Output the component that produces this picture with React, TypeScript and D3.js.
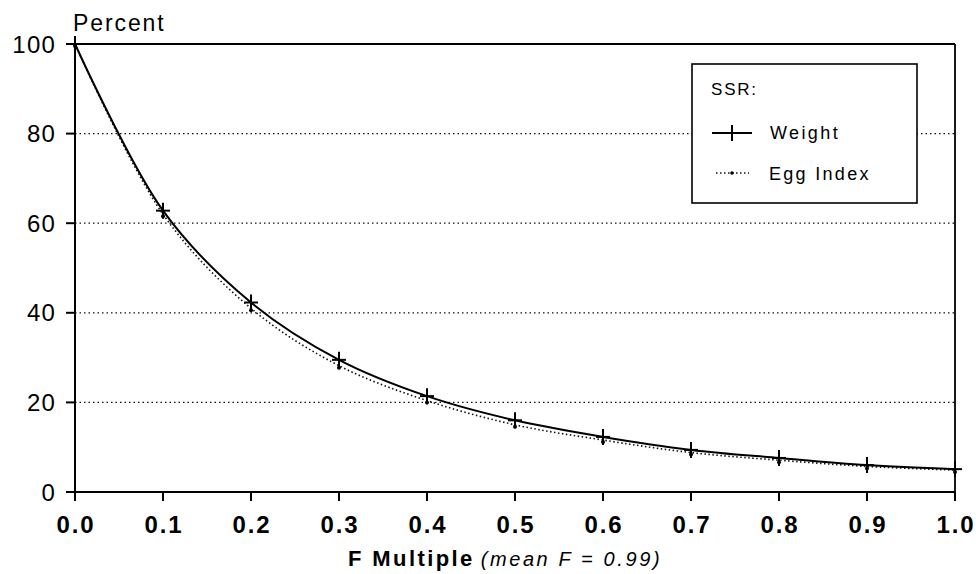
import React from "react";
import * as d3 from "d3";

const fMultiple = [0.0, 0.1, 0.2, 0.3, 0.4, 0.5, 0.6, 0.7, 0.8, 0.9, 1.0];
const weightSSR = [100, 62.8, 42.3, 29.5, 21.4, 16.0, 12.3, 9.4, 7.6, 6.0, 5.1];
const eggIndexSSR = [100, 62.0, 41.0, 28.2, 20.4, 15.0, 11.6, 8.8, 7.1, 5.7, 4.9];
const yTicks = [0, 20, 40, 60, 80, 100];
const xTicks = [0, 0.1, 0.2, 0.3, 0.4, 0.5, 0.6, 0.7, 0.8, 0.9, 1.0];
const gridLevels = [20, 40, 60, 80];

const W = 976;
const H = 574;
const FONT = "'Liberation Sans', Arial, sans-serif";

export default function App() {
  const x = d3.scaleLinear().domain([0, 1]).range([75, 955]);
  const y = d3.scaleLinear().domain([0, 100]).range([492, 44]);

  const weightPts = fMultiple.map((f, i) => [f, weightSSR[i]] as [number, number]);
  const eggPts = fMultiple.map((f, i) => [f, eggIndexSSR[i]] as [number, number]);

  const line = d3
    .line<[number, number]>()
    .x((d) => x(d[0]))
    .y((d) => y(d[1]))
    .curve(d3.curveCatmullRom.alpha(0.5));

  return (
    <svg
      width={W}
      height={H}
      style={{ position: "absolute", left: 0, top: 0, background: "#fff" }}
      fontFamily={FONT}
    >
      <rect x={0} y={0} width={W} height={H} fill="#fff" />
      {gridLevels.map((g) => (
        <line
          key={g}
          x1={x(0)}
          x2={x(1)}
          y1={y(g)}
          y2={y(g)}
          stroke="#111"
          strokeWidth={1.3}
          strokeDasharray="1.5,3"
        />
      ))}
      <line x1={x(0)} x2={x(1)} y1={y(100)} y2={y(100)} stroke="#000" strokeWidth={1.8} />
      <line x1={x(1)} x2={x(1)} y1={y(100)} y2={y(0)} stroke="#000" strokeWidth={1.8} />
      <line x1={x(0)} x2={x(0)} y1={y(100)} y2={y(0) + 9} stroke="#000" strokeWidth={2} />
      <line x1={x(0) - 9} x2={x(1)} y1={y(0)} y2={y(0)} stroke="#000" strokeWidth={2} />
      {yTicks.map((t) => (
        <g key={t}>
          <line x1={x(0) - 9} x2={x(0)} y1={y(t)} y2={y(t)} stroke="#000" strokeWidth={2} />
          <text
            x={56}
            y={y(t)}
            dy="0.36em"
            textAnchor="end"
            fontSize={24}
            letterSpacing={1.2}
            fill="#000"
          >
            {t}
          </text>
        </g>
      ))}
      {xTicks.map((t) => (
        <g key={t}>
          <line x1={x(t)} x2={x(t)} y1={y(0)} y2={y(0) + 9} stroke="#000" strokeWidth={2} />
          <text
            x={x(t) + 1}
            y={533}
            textAnchor="middle"
            fontSize={24}
            fontWeight="bold"
            letterSpacing={1.8}
            fill="#000"
          >
            {t.toFixed(1)}
          </text>
        </g>
      ))}
      <text x={73} y={31} fontSize={23} letterSpacing={1.9} fill="#000">
        Percent
      </text>
      <text x={348} y={566} fill="#000">
        <tspan fontWeight="bold" fontSize={22} letterSpacing={2.4}>F Multiple</tspan>
        <tspan fontStyle="italic" fontSize={20} letterSpacing={2.6} dx={6}>
          (mean F = 0.99)
        </tspan>
      </text>
      <path
        d={line(eggPts) || ""}
        fill="none"
        stroke="#111"
        strokeWidth={1.6}
        strokeDasharray="1.5,2.5"
      />
      <path d={line(weightPts) || ""} fill="none" stroke="#000" strokeWidth={2} />
      {eggPts.map((d, i) => (
        <circle key={"e" + i} cx={x(d[0])} cy={y(d[1]) + 2} r={2} fill="#000" />
      ))}
      {weightPts.map((d, i) => (
        <g key={"w" + i}>
          <line x1={x(d[0]) - 7} x2={x(d[0]) + 7} y1={y(d[1])} y2={y(d[1])} stroke="#000" strokeWidth={2} />
          <line x1={x(d[0])} x2={x(d[0])} y1={y(d[1]) - 8} y2={y(d[1]) + 8} stroke="#000" strokeWidth={2} />
        </g>
      ))}
      <rect x={692} y={64} width={225} height={139} fill="#fff" stroke="#000" strokeWidth={1.6} />
      <text x={711} y={95} fontSize={17} letterSpacing={1.8} fill="#000">
        SSR:
      </text>
      <line x1={712} x2={752} y1={133} y2={133} stroke="#000" strokeWidth={2} />
      <line x1={732} x2={732} y1={125} y2={141} stroke="#000" strokeWidth={2} />
      <text x={770} y={139} fontSize={18} letterSpacing={2.4} fill="#000">
        Weight
      </text>
      <line
        x1={716}
        x2={749}
        y1={173}
        y2={173}
        stroke="#111"
        strokeWidth={1.4}
        strokeDasharray="1.5,2.5"
      />
      <circle cx={732} cy={173} r={1.8} fill="#000" />
      <text x={769} y={180} fontSize={18} letterSpacing={2.3} fill="#000">
        Egg Index
      </text>
    </svg>
  );
}
